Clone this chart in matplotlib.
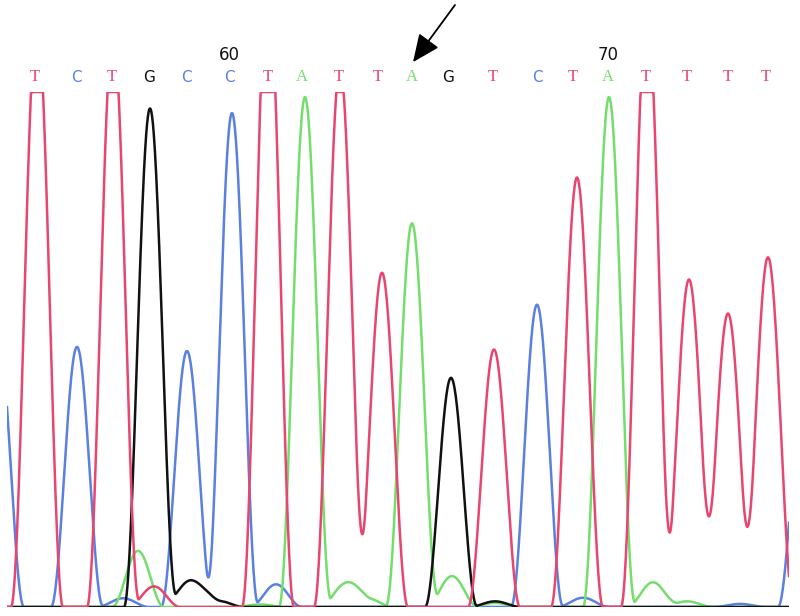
import numpy as np
import matplotlib
matplotlib.use('Agg')
import matplotlib.pyplot as plt

# chromatogram peak tables (scan position, signal height; 1000 = display ceiling)
T_POS = [37, 113, 154, 268, 340, 382, 494, 577, 647, 689, 728, 768]
T_HEIGHT = [1145, 1120, 40, 1230, 1050, 649, 500, 834, 1170, 636, 570, 679]
C_POS = [-2, 77, 123, 187, 232, 276, 537, 583, 740, 804]
C_HEIGHT = [530, 505, 17, 497, 959, 44, 587, 18, 6, 430]
A_POS = [138, 260, 305, 346, 367, 412, 452, 495, 609, 653, 687]
A_HEIGHT = [109, 5, 990, 46, 17, 745, 60, 8, 990, 48, 11]
G_POS = [150, 180, 195, 218, 451, 495]
G_HEIGHT = [968, 20, 42, 12, 445, 11]

# base calls
BASES = ['T', 'C', 'T', 'G', 'C', 'C', 'T', 'A', 'T', 'T',
         'A', 'G', 'T', 'C', 'T', 'A', 'T', 'T', 'T', 'T']
BASE_POS = [35, 76, 112, 149, 186, 229, 268, 302, 339, 378,
            412, 448, 493, 537, 573, 608, 646, 687, 728, 766]
FIRST_BASE = 55
MUTATION_BASE = 65

COLORS = {'T': '#e9466f', 'C': '#5a80e2', 'A': '#74de6c', 'G': '#111111'}
FONTS = {'T': 'Liberation Serif', 'A': 'Liberation Serif',
         'C': 'DejaVu Sans', 'G': 'DejaVu Sans'}
PEAK_HALF_WIDTH = 26
CEILING = 1000
X_MIN, X_MAX = 7, 789


def trace(scan, positions, heights):
    signal = np.zeros_like(scan)
    for p, h in zip(positions, heights):
        d = np.abs(scan - p)
        shape = np.where(d < PEAK_HALF_WIDTH, np.cos(np.pi * d / (2 * PEAK_HALF_WIDTH)) ** 2, 0)
        signal += h * shape
    return np.minimum(signal, CEILING)


scan = np.linspace(X_MIN, X_MAX, 2000)

fig = plt.figure(figsize=(8, 6.16), dpi=100)
ax = fig.add_axes([X_MIN / 800, 9 / 616, (X_MAX - X_MIN) / 800, 515 / 616])

ax.plot([X_MIN, X_MAX], [0, 0], color='#333333', lw=1.4, zorder=1)
channels = [('C', C_POS, C_HEIGHT), ('A', A_POS, A_HEIGHT),
            ('G', G_POS, G_HEIGHT), ('T', T_POS, T_HEIGHT)]
for base, pos, height in channels:
    ax.plot(scan, trace(scan, pos, height), color=COLORS[base], lw=1.8,
            solid_joinstyle='round', zorder=2)

for i, (b, x) in enumerate(zip(BASES, BASE_POS)):
    ax.text(x, 1.029, b, color=COLORS[b], transform=ax.get_xaxis_transform(),
            ha='center', va='center', fontsize=12 if FONTS[b] == 'Liberation Serif' else 11,
            family=FONTS[b])
    num = FIRST_BASE + i
    if num % 10 == 0:
        ax.text(x, 1.072, str(num), color='#111111', transform=ax.get_xaxis_transform(),
                ha='center', va='center', fontsize=12, family='DejaVu Sans')

mx = BASE_POS[MUTATION_BASE - FIRST_BASE]
ax.annotate('', xy=(mx + 1, 1.058), xycoords=('data', 'axes fraction'),
            xytext=(mx + 43, 1.169), textcoords=('data', 'axes fraction'),
            arrowprops=dict(arrowstyle='-|>,head_length=1.7,head_width=0.75',
                            color='black', lw=1.3, shrinkA=0, shrinkB=0),
            annotation_clip=False)

ax.set_xlim(X_MIN, X_MAX)
ax.set_ylim(0, CEILING)
ax.axis('off')

fig.savefig('out.png', dpi=100)
